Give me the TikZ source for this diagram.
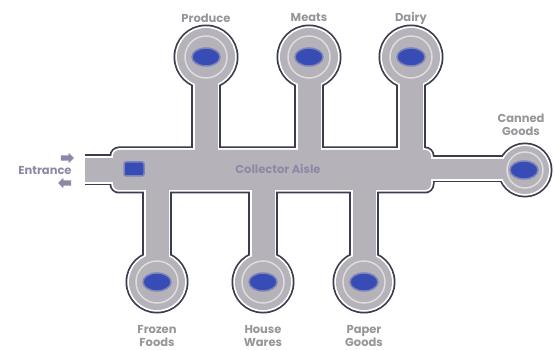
\documentclass[tikz,border=0pt]{standalone}
\usepackage{fontspec}
\setmainfont{Poppins}
\usetikzlibrary{
    shapes.geometric,
    shapes.arrows,
    positioning
}
\definecolor{aislegray}{RGB}{182,178,185}
\definecolor{rimdark}{RGB}{60,60,80}
\definecolor{spotblue}{RGB}{56,76,182}
\definecolor{labelgray}{RGB}{150,150,154}
\definecolor{signgray}{RGB}{140,136,166}
\tikzstyle{rim} = [
    draw=rimdark,
    line width=7pt
]
\tikzstyle{halo} = [
    draw=white,
    line width=3.5pt
]
\tikzstyle{floor} = [
    fill=aislegray
]
\tikzstyle{spot} = [
    ellipse,
    fill=spotblue,
    draw=spotblue!45!aislegray,
    line width=1.5pt,
    minimum width=28pt,
    minimum height=18pt,
    inner sep=0pt
]
\tikzstyle{tag} = [
    text=labelgray,
    font=\fontsize{11.5}{12.5}\selectfont\bfseries,
    align=center
]
\tikzstyle{sign} = [
    single arrow,
    fill=signgray,
    minimum height=13pt,
    inner sep=2.5pt,
    single arrow head extend=2.5pt
]
% one layer of the floor plan
\newcommand\storeplan[1]{%
    % entrance and collector aisle
    \path[#1] (80,158) rectangle (118,182);
    \path[#1, rounded corners=6pt] (113,150) rectangle (431,190);
    % upper departments
    \foreach \x in {206,309,411} {
        \path[#1] (\x-11.5,70) rectangle (\x+11.5,155);
        \path[#1] (\x,57) circle[radius=29pt];
    }
    % lower departments
    \foreach \x in {157,263,364} {
        \path[#1] (\x-11.5,185) rectangle (\x+11.5,270);
        \path[#1] (\x,282) circle[radius=28pt];
    }
    % canned goods
    \path[#1] (425,159) rectangle (505,179);
    \path[#1] (525,170) circle[radius=24pt];
}
\begin{document}
\begin{tikzpicture}[x=1pt, y=-1pt]
    \useasboundingbox (0,0) rectangle (555,350);

    % Floor plan
    \storeplan{rim}
    \storeplan{halo}
    \storeplan{floor}
    \fill[white] (74,150) rectangle (85,192);

    % Departments
    \foreach \x/\name/\txt in {206/produce/Produce, 309/meats/Meats, 411/dairy/Dairy} {
        \draw[white!55!aislegray, line width=1.5pt] (\x,57) circle[radius=21pt];
        \node[spot] (\name) at (\x,57) {};
        \node[tag] (\name-tag) at (\x,18) {\txt};
    }
    \foreach \x/\name/\txt in {157/frozen/Frozen\\Foods, 263/house/House\\Wares, 364/paper/Paper\\Goods} {
        \draw[white!55!aislegray, line width=1.5pt] (\x,282) circle[radius=21pt];
        \node[spot] (\name) at (\x,282) {};
        \node[tag] (\name-tag) at (\x,336) {\txt};
    }
    \draw[white!55!aislegray, line width=1.5pt] (525,170) circle[radius=18pt];
    \node[spot] (canned) at (524,170) {};
    \node[tag] (canned-tag) at (521,125) {Canned\\Goods};

    % Entrance
    \node[rectangle, rounded corners=2pt, fill=spotblue, draw=spotblue!45!aislegray,
        line width=1.5pt, minimum width=20pt, minimum height=14pt] (door) at (134,169) {};
    \node[tag, text=signgray] (entrance) at (45,171) {Entrance};
    \node[sign] (inarrow) at (66,158) {};
    \node[sign, shape border rotate=180] (outarrow) at (66,183) {};

    % Aisle name
    \node[tag, text=signgray] (aisle) at (278,169) {Collector Aisle};
\end{tikzpicture}
\end{document}
